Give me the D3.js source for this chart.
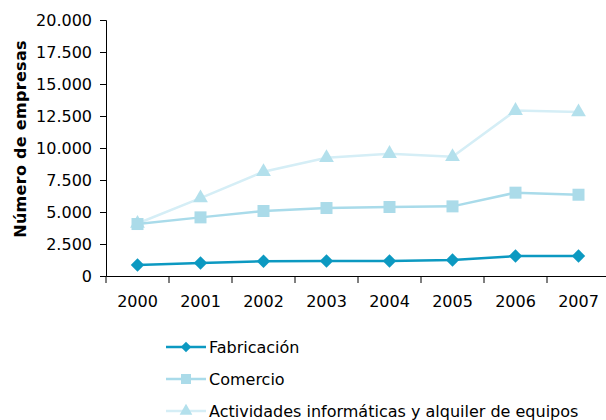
<!DOCTYPE html>
<html>
<head>
<meta charset="utf-8">
<script src="https://cdn.jsdelivr.net/npm/d3@7"></script>
<style>
  body { margin: 0; background: #fff; }
  text { font-family: "DejaVu Sans", Verdana, sans-serif; fill: #000; }
</style>
</head>
<body>
<div class="chart"></div>
<script>
var width = 606, height = 420;

// data
var years = ["2000", "2001", "2002", "2003", "2004", "2005", "2006", "2007"];
var fabricacion = [860, 1020, 1150, 1170, 1170, 1250, 1560, 1560];
var comercio = [4060, 4580, 5080, 5310, 5390, 5440, 6510, 6350];
var actividades = [4100, 6090, 8150, 9240, 9560, 9320, 12920, 12810];
var seriesNames = ["Fabricación", "Comercio", "Actividades informáticas y alquiler de equipos"];
var yTicks = [0, 2500, 5000, 7500, 10000, 12500, 15000, 17500, 20000];

// diamond = square turned by 45 degrees
var series = [
  {name: seriesNames[0], values: fabricacion, line: "#0c99c1", fill: "#0c99c1", shape: d3.symbolSquare, rot: 45, size: 90, lsize: 55},
  {name: seriesNames[1], values: comercio, line: "#a9dbea", fill: "#abdbe9", shape: d3.symbolSquare, rot: 0, size: 144, lsize: 100},
  {name: seriesNames[2], values: actividades, line: "#d5eef6", fill: "#b3e0ec", shape: d3.symbolTriangle, rot: 0, size: 95, lsize: 70}
];

var margin = {left: 106, top: 20, right: -4, bottom: 144};
var fontSize = "16px";

var svg = d3.select(".chart").append("svg")
    .attr("width", width)
    .attr("height", height);

var x = d3.scaleBand()
    .domain(years)
    .range([margin.left, width - margin.right]);

var y = d3.scaleLinear()
    .domain([0, 20000])
    .range([height - margin.bottom, margin.top]);

var fmt = function(d) { return d3.format(",")(d).replace(/,/g, "."); };

// y axis
var yAxis = svg.append("g")
    .attr("transform", "translate(" + margin.left + ",0)")
    .call(d3.axisLeft(y).tickValues(yTicks).tickFormat(fmt).tickSize(6).tickPadding(8));
yAxis.selectAll("text").style("font-size", fontSize);

// x axis
var xAxis = svg.append("g")
    .attr("transform", "translate(0," + y(0) + ")")
    .call(d3.axisBottom(x).tickSizeOuter(0).tickSize(0).tickPadding(20));
xAxis.selectAll("text").style("font-size", fontSize);
// ticks between the categories
xAxis.selectAll(".sep")
  .data(years)
  .enter().append("line")
    .attr("class", "sep")
    .attr("x1", function(d) { return x(d); })
    .attr("x2", function(d) { return x(d); })
    .attr("y1", 0).attr("y2", 7)
    .attr("stroke", "#000");
svg.selectAll(".domain").attr("stroke", "#000");

svg.append("text")
    .attr("transform", "translate(26,139) rotate(-90)")
    .attr("text-anchor", "middle")
    .style("font-size", fontSize)
    .style("font-weight", "bold")
    .style("letter-spacing", "0.3px")
    .text("Número de empresas");

var cx = function(i) { return x(years[i]) + x.bandwidth() / 2; };

var line = d3.line()
    .x(function(d, i) { return cx(i); })
    .y(function(d) { return y(d); });

// draw from back to front
series.slice().reverse().forEach(function(s) {
  var g = svg.append("g");
  g.append("path")
      .attr("d", line(s.values))
      .attr("fill", "none")
      .attr("stroke", s.line)
      .attr("stroke-width", 2.5);
  g.selectAll("path.m")
    .data(s.values)
    .enter().append("path")
      .attr("class", "m")
      .attr("d", d3.symbol().type(s.shape).size(s.size))
      .attr("transform", function(d, i) {
        return "translate(" + cx(i) + "," + y(d) + ") rotate(" + s.rot + ")";
      })
      .attr("fill", s.fill);
});

// legend
var legend = svg.append("g");
series.forEach(function(s, i) {
  var ly = 347 + i * 32;
  legend.append("line")
      .attr("x1", 166).attr("x2", 206)
      .attr("y1", ly).attr("y2", ly)
      .attr("stroke", s.line)
      .attr("stroke-width", 2.5);
  legend.append("path")
      .attr("d", d3.symbol().type(s.shape).size(s.lsize))
      .attr("transform", "translate(186," + ly + ") rotate(" + s.rot + ")")
      .attr("fill", s.fill);
  legend.append("text")
      .attr("x", 209)
      .attr("y", ly + 6)
      .style("font-size", fontSize)
      .text(s.name);
});
</script>
</body>
</html>
